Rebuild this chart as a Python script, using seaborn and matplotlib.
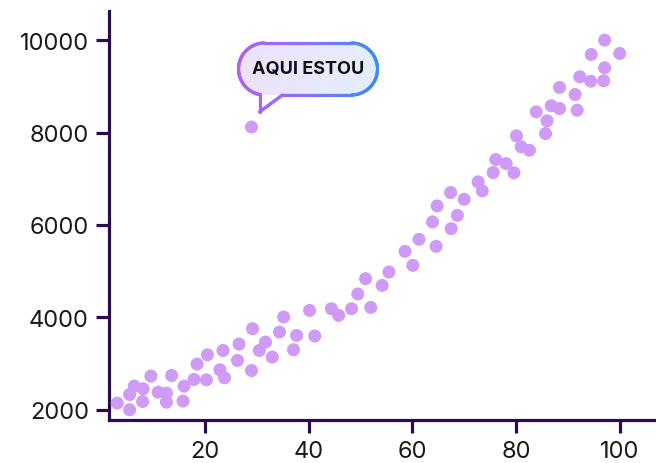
import numpy as np
import matplotlib
matplotlib.use("Agg")
import matplotlib.pyplot as plt
import seaborn as sns
import pandas as pd
from matplotlib.path import Path
from matplotlib.patches import PathPatch
from matplotlib.collections import LineCollection
from matplotlib import transforms as mtransforms
from matplotlib.colors import LinearSegmentedColormap

## data
x_vals = [3.1, 5.5, 5.5, 6.4, 8.1, 8.0, 9.6, 11.0, 12.6, 12.6, 13.6, 16.0, 15.8,
          17.9, 18.5, 20.3, 20.5, 22.9, 23.8, 23.5, 26.3, 26.6, 29.0, 29.2, 30.5,
          31.7, 33.0, 34.4, 35.2, 37.7, 37.1, 40.2, 41.2, 44.4, 45.8, 48.3, 52.0,
          49.5, 51.0, 54.2, 55.5, 58.6, 60.1, 61.3, 64.6, 63.9, 64.8, 67.5, 68.7,
          67.4, 70.0, 72.7, 73.5, 75.6, 76.1, 78.1, 79.6, 80.1, 81.0, 82.6, 83.9,
          85.7, 86.0, 86.8, 88.4, 88.4, 91.4, 91.8, 92.3, 94.4, 94.5, 97.1, 97.1,
          96.9, 100.0]
y_vals = [2145, 2000, 2331, 2513, 2455, 2180, 2730, 2383, 2361, 2166, 2743, 2513, 2188,
          2656, 2990, 2650, 3191, 2866, 2693, 3284, 3068, 3423, 2851, 3754, 3284,
          3466, 3141, 3683, 4008, 3609, 3300, 4151, 3596, 4188, 4043, 4188, 4216,
          4506, 4837, 4692, 4982, 5429, 5126, 5689, 5537, 6066, 6412, 5920, 6208,
          6700, 6555, 6932, 6737, 7133, 7415, 7328, 7127, 7928, 7690, 7616, 8448,
          7978, 8253, 8578, 8519, 8974, 8822, 8483, 9206, 9111, 9689, 9999, 9401,
          9119, 9711]

callout_x = 29.0
callout_y = 8120
callout_text = "AQUI ESTOU"

x_ticks = [20, 40, 60, 80, 100]
y_ticks = [2000, 4000, 6000, 8000, 10000]

df = pd.DataFrame({"x": x_vals + [callout_x], "y": y_vals + [callout_y]})

## theme
sns.set_theme(style="ticks")
plt.rcParams["font.family"] = ["Inter", "DejaVu Sans"]

axis_color = "#2e0b50"
point_color = "#d09bf7"

fig = plt.figure(figsize=(6.56, 4.64), dpi=100)
ax = fig.add_axes([0.166, 0.093, 0.834, 0.881])

sns.scatterplot(data=df, x="x", y="y", s=88, color=point_color,
                edgecolor="none", linewidth=0, ax=ax, zorder=3)

ax.set_xticks(x_ticks)
ax.set_yticks(y_ticks)
ax.set_xlabel("")
ax.set_ylabel("")
for side in ["top", "right"]:
    ax.spines[side].set_visible(False)
for side in ["left", "bottom"]:
    ax.spines[side].set_color(axis_color)
    ax.spines[side].set_linewidth(2.3)
ax.tick_params(axis="both", length=9.5, width=2.3, color=axis_color,
               labelsize=17, labelcolor="#1a1a1a", pad=5)

## speech bubble (pixel offsets from the callout point)
left, right, bottom, top = -13, 126, 32, 84
r = (top - bottom) / 2
cy = (top + bottom) / 2
cx1, cx2 = left + r, right - r
tip = (8, 15)
tail_right = 31

pts = [(tail_right, bottom), (cx2, bottom)]
for a in np.linspace(-90, 90, 40):
    pts.append((cx2 + r * np.cos(np.radians(a)), cy + r * np.sin(np.radians(a))))
pts.append((cx1, top))
a_end = 360 - np.degrees(np.arccos((tip[0] - cx1) / r))
for a in np.linspace(90, a_end, 50):
    pts.append((cx1 + r * np.cos(np.radians(a)), cy + r * np.sin(np.radians(a))))
pts.append(tip)
pts.append((tail_right, bottom))
pts = np.array(pts)

bubble_trans = (mtransforms.Affine2D().scale(fig.dpi / 100.0)
                + mtransforms.ScaledTranslation(callout_x, callout_y, ax.transData))

patch = PathPatch(Path(pts), facecolor="none", edgecolor="none",
                  transform=bubble_trans, zorder=4)
ax.add_patch(patch)

fill_cmap = LinearSegmentedColormap.from_list("fill", ["#ede2fc", "#e4eefc"])
grad = np.linspace(0, 1, 256).reshape(1, -1)
im = ax.imshow(grad, cmap=fill_cmap, extent=(left, right, bottom, top),
               transform=bubble_trans, aspect="auto", zorder=4, interpolation="bilinear")
im.set_clip_path(patch)

# gradient border
dense = []
for p0, p1 in zip(pts[:-1], pts[1:]):
    n = max(2, int(np.hypot(*(p1 - p0)) / 1.5))
    for t in np.linspace(0, 1, n, endpoint=False):
        dense.append(p0 + (p1 - p0) * t)
dense.append(pts[-1])
dense = np.array(dense)
segs = np.stack([dense[:-1], dense[1:]], axis=1)
border_cmap = LinearSegmentedColormap.from_list("border", ["#b061f2", "#8a73f5", "#3a8cf6"])
mid_x = (segs[:, 0, 0] + segs[:, 1, 0]) / 2
lc = LineCollection(segs, colors=border_cmap((mid_x - left) / (right - left)),
                    linewidths=2.3, transform=bubble_trans, zorder=5,
                    capstyle="round", joinstyle="round")
ax.add_collection(lc)

ax.annotate(callout_text, xy=(callout_x, callout_y),
            xytext=((left + right) / 2 * 0.72, cy * 0.72), textcoords="offset points",
            ha="center", va="center", fontsize=13, fontweight="bold",
            color="#111111", zorder=6)

ax.set_xlim(1.5, 107)
ax.set_ylim(1783, 10628)

plt.savefig("out.png", dpi=100)
plt.close()
